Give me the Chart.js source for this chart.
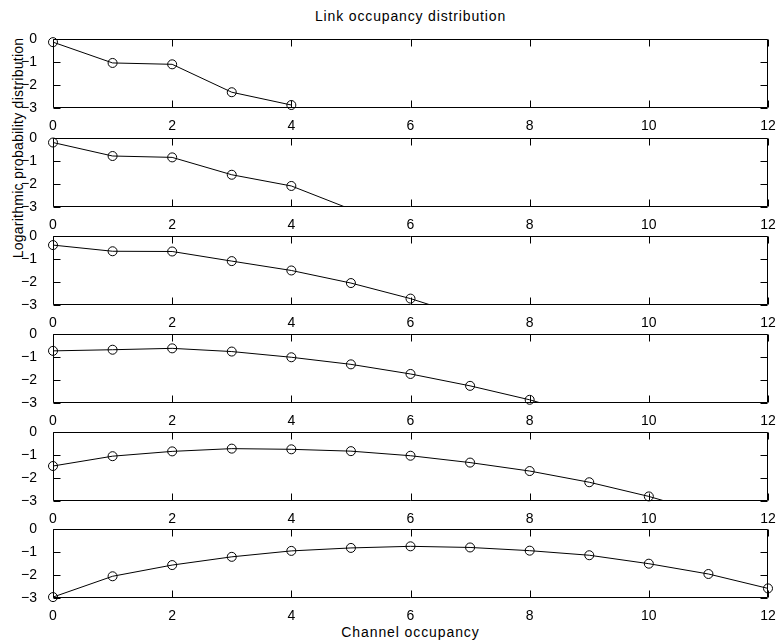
<!DOCTYPE html>
<html><head><meta charset="utf-8">
<script src="https://cdn.jsdelivr.net/npm/chart.js@4/dist/chart.umd.min.js"></script>
<style>
html,body{margin:0;padding:0;background:#fff;}
#wrap{position:relative;width:780px;height:643px;overflow:hidden;font-family:'Liberation Sans',Arial,sans-serif;color:#000;background:#fff;}
canvas{position:absolute;left:0;}
.t{position:absolute;font-size:14px;line-height:14px;white-space:nowrap;}
</style></head><body>
<div id="wrap">
<div class="t" id="title" style="left:53px;width:715px;top:9px;text-align:center;letter-spacing:0.85px">Link occupancy distribution</div>
<div class="t" id="xlab" style="left:53px;width:715px;top:625px;text-align:center;letter-spacing:0.9px">Channel occupancy</div>
<div class="t" id="ylab" style="left:18px;top:148px;transform:translate(-50%,-50%) rotate(-90deg);letter-spacing:0.25px">Logarithmic probability distribution</div>
</div>
<script>
// ---- data ----
const channel = [0, 1, 2, 3, 4, 5, 6, 7, 8, 9, 10, 11, 12];
const xTickValues = [0, 2, 4, 6, 8, 10, 12];
const xTickLabels = ['0', '2', '4', '6', '8', '10', '12'];
const yTickValues = [0, -1, -2, -3];
const yTickLabels = ['0', '\u22121', '\u22122', '\u22123'];

const series1 = [-0.12, -1.03, -1.09, -2.31, -2.87];
const series2 = [-0.18, -0.77, -0.83, -1.59, -2.08, -3.1];
const series3 = [-0.38, -0.65, -0.66, -1.08, -1.49, -2.04, -2.72, -3.55];
const series4 = [-0.72, -0.67, -0.61, -0.75, -1.00, -1.31, -1.73, -2.25, -2.86, -3.6];
const series5 = [-1.47, -1.04, -0.83, -0.71, -0.74, -0.82, -1.02, -1.32, -1.69, -2.18, -2.80, -3.55];
const series6 = [-2.96, -2.05, -1.56, -1.20, -0.94, -0.81, -0.74, -0.79, -0.93, -1.13, -1.50, -1.95, -2.58];

const allSeries = [series1, series2, series3, series4, series5, series6];

// ---- layout ----
const panelTops = [33, 132, 230, 328, 426, 523];
const PAD_TOP = 10, PLOT_H = 75, XAXIS_H = 30;

Chart.defaults.font.family = "'Liberation Sans', Arial, sans-serif";
Chart.defaults.font.size = 14;
Chart.defaults.color = '#000';

const boxTicks = {
  id: 'boxTicks',
  beforeDatasetsDraw(chart) {
    const {ctx, chartArea: a, scales} = chart;
    const L = Math.round(a.left) + 0.5, R = Math.round(a.right) - 0.5;
    const T = Math.round(a.top) + 0.5, B = Math.round(a.bottom) - 0.5;
    const TL = 7;
    ctx.save();
    ctx.strokeStyle = '#000';
    ctx.lineWidth = 1;
    ctx.beginPath();
    ctx.rect(L, T, R - L, B - T);
    scales.x.ticks.forEach(t => {
      const px = Math.round(scales.x.getPixelForValue(t.value)) + 0.5;
      ctx.moveTo(px, B); ctx.lineTo(px, B - TL);
      ctx.moveTo(px, T); ctx.lineTo(px, T + TL);
    });
    scales.y.ticks.forEach(t => {
      const py = Math.round(scales.y.getPixelForValue(t.value)) + 0.5;
      ctx.moveTo(L, py); ctx.lineTo(L + TL, py);
      ctx.moveTo(R, py); ctx.lineTo(R - TL, py);
    });
    ctx.stroke();
    ctx.restore();
  }
};

const wrap = document.getElementById('wrap');
allSeries.forEach((series, k) => {
  const cv = document.createElement('canvas');
  cv.width = 780;
  cv.height = PAD_TOP + PLOT_H + XAXIS_H;
  cv.style.top = (panelTops[k] - PAD_TOP) + 'px';
  wrap.appendChild(cv);
  const pts = series.map((v, i) => ({x: channel[i], y: v}));
  new Chart(cv, {
    type: 'line',
    data: {
      datasets: [
        {data: pts, borderColor: '#000', borderWidth: 1, pointRadius: 0, tension: 0, fill: false},
        {data: pts.filter(p => p.y >= -3), showLine: false, pointRadius: 4.5, pointStyle: 'circle',
         pointBorderColor: '#000', pointBackgroundColor: 'rgba(0,0,0,0)', pointBorderWidth: 1, clip: false}
      ]
    },
    options: {
      responsive: false, animation: false, devicePixelRatio: 1, events: [],
      layout: {padding: {top: PAD_TOP, right: 12, bottom: 0, left: 0}},
      plugins: {legend: {display: false}, tooltip: {enabled: false}, title: {display: false}},
      scales: {
        x: {
          type: 'linear', min: 0, max: 12,
          grid: {display: false}, border: {display: false},
          afterBuildTicks: s => { s.ticks = xTickValues.map(v => ({value: v})); },
          ticks: {padding: 2, maxRotation: 0, autoSkip: false,
                  callback: v => { const i = xTickValues.indexOf(v); return i >= 0 ? xTickLabels[i] : ''; }},
          afterFit: s => { s.height = XAXIS_H; }
        },
        y: {
          type: 'linear', min: -3, max: 0,
          grid: {display: false}, border: {display: false},
          afterBuildTicks: s => { s.ticks = yTickValues.map(v => ({value: v})); },
          ticks: {padding: 8,
                  callback: v => { const i = yTickValues.indexOf(v); return i >= 0 ? yTickLabels[i] : ''; }},
          afterFit: s => { s.width = 53; }
        }
      }
    },
    plugins: [boxTicks]
  });
});
</script>
</body></html>
